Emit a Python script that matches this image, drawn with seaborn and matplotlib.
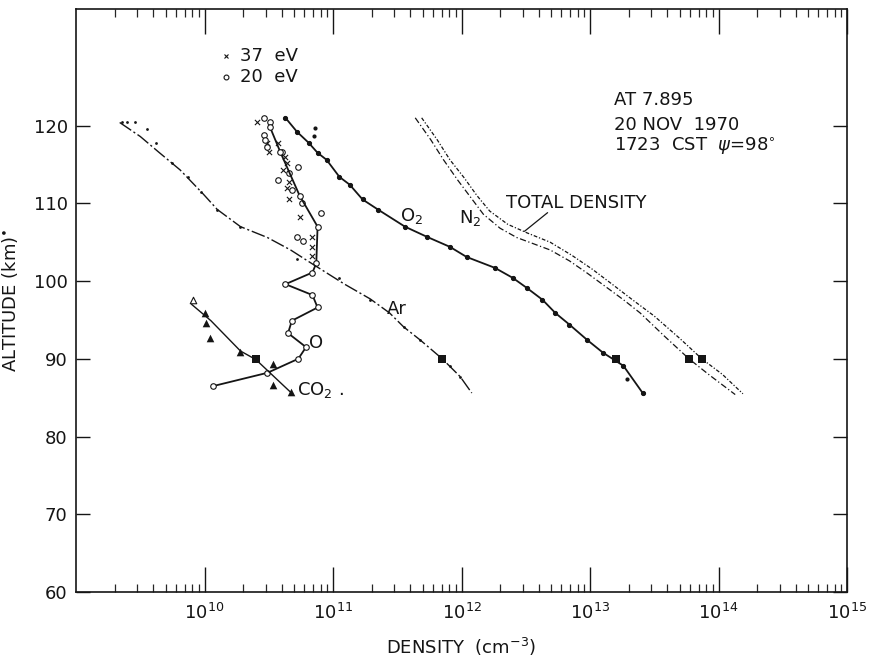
import numpy as np
import matplotlib
matplotlib.use("Agg")
import matplotlib.pyplot as plt
import seaborn as sns
from matplotlib.ticker import FixedLocator, LogLocator, NullFormatter

# values: log10 density (cm^-3) and altitude (km)
o_logn = [10.07, 10.49, 10.73, 10.79, 10.65, 10.68, 10.88, 10.84, 10.63, 10.84, 10.87, 10.88, 10.74, 10.59, 10.51]
o_alt = [86.5, 88.2, 90.0, 91.5, 93.3, 94.9, 96.6, 98.2, 99.6, 101.1, 102.3, 107.0, 111.0, 116.6, 119.8]

ev37_logn = [10.41, 10.49, 10.50, 10.57, 10.63, 10.64, 10.61, 10.66, 10.64, 10.66, 10.74, 10.84, 10.84, 10.84]
ev37_alt = [120.4, 117.8, 116.6, 117.8, 115.9, 115.2, 114.3, 112.8, 112.0, 110.6, 108.3, 105.7, 104.4, 103.2]

ev20_logn = [10.46, 10.51, 10.46, 10.47, 10.49, 10.60, 10.73, 10.66, 10.57, 10.68, 10.76, 10.91, 10.72, 10.77]
ev20_alt = [121.0, 120.4, 118.8, 118.2, 117.3, 116.6, 114.7, 113.9, 113.0, 111.7, 110.1, 108.8, 105.7, 105.2]

o2_logn = [10.63, 10.72, 10.81, 10.88, 10.95, 11.05, 11.13, 11.23, 11.35, 11.56, 11.73, 11.91,
           12.04, 12.26, 12.40, 12.51, 12.63, 12.73, 12.84, 12.98, 13.10, 13.26, 13.41]
o2_alt = [121.0, 119.2, 117.8, 116.5, 115.6, 113.4, 112.4, 110.5, 109.2, 107.0, 105.7, 104.4,
          103.1, 101.7, 100.4, 99.1, 97.6, 95.9, 94.4, 92.4, 90.8, 89.1, 85.6]
o2_extra_logn = [10.86, 10.85, 13.29]
o2_extra_alt = [119.7, 118.7, 87.4]

ar_logn = [9.34, 9.50, 9.65, 9.81, 9.99, 10.10, 10.28, 10.49, 10.67, 10.84, 11.09, 11.29,
           11.44, 11.55, 11.68, 11.85, 11.99, 12.08]
ar_alt = [120.4, 118.6, 116.5, 114.3, 111.2, 109.2, 107.0, 105.6, 104.0, 102.2, 99.6, 97.7,
          95.9, 94.1, 92.4, 90.0, 87.7, 85.6]
ar_dot_logn = [9.36, 9.40, 9.46, 9.55, 9.62, 9.75, 9.87, 9.97, 10.10, 10.28, 10.72, 11.05,
               11.29, 11.55, 11.68, 11.91, 11.99]
ar_dot_alt = [120.4, 120.5, 120.4, 119.5, 117.8, 115.2, 113.4, 111.4, 109.2, 107.0, 102.9, 100.4,
              97.6, 94.1, 92.4, 89.1, 87.7]

co2_logn = [9.90, 10.05, 10.28, 10.40, 10.67]
co2_alt = [97.0, 94.9, 91.0, 89.9, 85.7]
co2_tri_logn = [10.00, 10.01, 10.04, 10.28, 10.53, 10.53, 10.67]
co2_tri_alt = [95.9, 94.6, 92.7, 90.9, 89.3, 86.6, 85.7]
co2_open_logn = [9.91]
co2_open_alt = [97.6]

n2_logn = [11.64, 11.76, 11.86, 11.97, 12.07, 12.17, 12.30, 12.43, 12.56, 12.69, 12.84, 12.98,
           13.12, 13.26, 13.39, 13.58, 13.77, 13.93, 14.13]
n2_alt = [121.0, 118.2, 115.6, 113.0, 110.8, 108.6, 106.8, 105.6, 104.8, 104.0, 102.6, 101.0,
          99.3, 97.6, 95.9, 92.9, 90.0, 87.9, 85.4]

tot_logn = [11.69, 11.81, 11.91, 12.02, 12.12, 12.22, 12.36, 12.51, 12.69, 12.86, 13.02, 13.18,
            13.33, 13.50, 13.70, 13.87, 14.03, 14.19]
tot_alt = [121.0, 118.2, 115.6, 113.3, 111.0, 109.0, 107.3, 106.2, 105.0, 103.3, 101.5, 99.5,
           97.6, 95.5, 92.6, 90.0, 88.0, 85.5]

# 90 km reference squares
sq_logn = [10.40, 11.85, 13.20, 13.77, 13.87]
sq_alt = [90.0, 90.0, 90.0, 90.0, 90.0]

x_ticks = [1e10, 1e11, 1e12, 1e13, 1e14, 1e15]
y_ticks = [60, 70, 80, 90, 100, 110, 120]


def d(v):
    return np.power(10.0, np.asarray(v))


sns.set_style("ticks")
plt.rcParams["font.family"] = ["DejaVu Sans"]
ink = "#151515"

fig = plt.figure(figsize=(8.73, 6.58), dpi=100)
ax = fig.add_axes([76 / 873, 1 - 592 / 658, 771 / 873, 583 / 658])
ax.set_xscale("log")

line_kw = dict(sort=False, estimator=None, color=ink, legend=False, ax=ax)

# O curve with open circles
sns.lineplot(x=d(o_logn), y=o_alt, lw=1.3, marker="o", markersize=4,
             markerfacecolor="white", markeredgecolor=ink, markeredgewidth=0.8, **line_kw)
# scattered O measurements
sns.scatterplot(x=d(ev37_logn), y=ev37_alt, marker="x", s=14, color=ink, linewidth=0.8, ax=ax)
sns.scatterplot(x=d(ev20_logn), y=ev20_alt, marker="o", s=16, facecolor="white",
                edgecolor=ink, linewidth=0.8, ax=ax)

# O2
sns.lineplot(x=d(o2_logn), y=o2_alt, lw=1.3, marker="o", markersize=3,
             markerfacecolor=ink, markeredgecolor=ink, **line_kw)
sns.scatterplot(x=d(o2_extra_logn), y=o2_extra_alt, s=9, color=ink, linewidth=0, ax=ax)

# Ar
sns.lineplot(x=d(ar_logn), y=ar_alt, lw=1.0, **line_kw)
ax.lines[-1].set_dashes([10, 2, 1.5, 2])
sns.scatterplot(x=d(ar_dot_logn), y=ar_dot_alt, s=4, color=ink, linewidth=0, ax=ax)

# CO2
sns.lineplot(x=d(co2_logn), y=co2_alt, lw=1.0, **line_kw)
sns.scatterplot(x=d(co2_tri_logn), y=co2_tri_alt, marker="^", s=30, color=ink, linewidth=0, ax=ax)
sns.scatterplot(x=d(co2_open_logn), y=co2_open_alt, marker="^", s=22, facecolor="white",
                edgecolor=ink, linewidth=0.8, ax=ax)

# N2 and total density
sns.lineplot(x=d(n2_logn), y=n2_alt, lw=0.9, **line_kw)
ax.lines[-1].set_dashes([5, 2, 1, 2])
sns.lineplot(x=d(tot_logn), y=tot_alt, lw=0.9, **line_kw)
ax.lines[-1].set_dashes([3, 1.5, 1, 1.5])

sns.scatterplot(x=d(sq_logn), y=sq_alt, marker="s", s=28, color=ink, linewidth=0, ax=ax)

# labels on the curves
txt = dict(color=ink, fontsize=13)
ax.text(d(11.61), 108.4, "O$_2$", ha="center", va="center", **txt)
ax.text(d(12.07), 108.1, "N$_2$", ha="center", va="center", **txt)
ax.text(d(12.35), 110.0, "TOTAL DENSITY", ha="left", va="center", **txt)
ax.plot(d([12.67, 12.49]), [108.8, 106.4], color=ink, lw=0.9)
ax.text(d(11.50), 96.4, "Ar", ha="center", va="center", **txt)
ax.text(d(10.87), 92.0, "O", ha="center", va="center", **txt)
ax.text(d(10.72), 86.0, "CO$_2$ .", ha="left", va="center", **txt)

# legend for the two energies
ax.plot(d(10.17), 128.9, marker="x", markersize=3.5, color=ink, mew=0.8)
ax.text(d(10.28), 128.9, "37  eV", ha="left", va="center", **txt)
ax.plot(d(10.17), 126.3, marker="o", markersize=3.5, mfc="white", mec=ink, mew=0.8)
ax.text(d(10.28), 126.3, "20  eV", ha="left", va="center", **txt)

# flight annotation
ax.text(d(13.19), 123.3, "AT 7.895", ha="left", va="center", **txt)
ax.text(d(13.19), 120.1, "20 NOV  1970", ha="left", va="center", **txt)
ax.text(d(13.19), 117.3, "1723  CST  $\\psi$=98$^{\\circ}$", ha="left", va="center", **txt)

ax.set_xlim(1e9, 1e15)
ax.set_ylim(60, 135)
ax.xaxis.set_major_locator(FixedLocator(x_ticks))
ax.xaxis.set_minor_locator(LogLocator(base=10, subs=np.arange(2, 10)))
ax.xaxis.set_minor_formatter(NullFormatter())
ax.set_yticks(y_ticks)

ax.tick_params(axis="x", which="major", direction="in", length=18, width=1.0,
               top=True, bottom=True, labelsize=13, colors=ink, pad=8)
ax.tick_params(axis="x", which="minor", direction="in", length=6, width=0.9,
               top=True, bottom=True)
ax.tick_params(axis="y", which="major", direction="in", length=10, width=1.0,
               left=True, right=True, labelsize=13, colors=ink, pad=6)
for sp in ax.spines.values():
    sp.set_linewidth(1.2)
    sp.set_color(ink)

ax.set_xlabel("DENSITY  (cm$^{-3}$)", fontsize=13, color=ink, labelpad=9)
ax.set_ylabel("ALTITUDE (km)$^{\\bullet}$", fontsize=13, color=ink, labelpad=10)

fig.savefig("out.png", dpi=100, facecolor="white")
